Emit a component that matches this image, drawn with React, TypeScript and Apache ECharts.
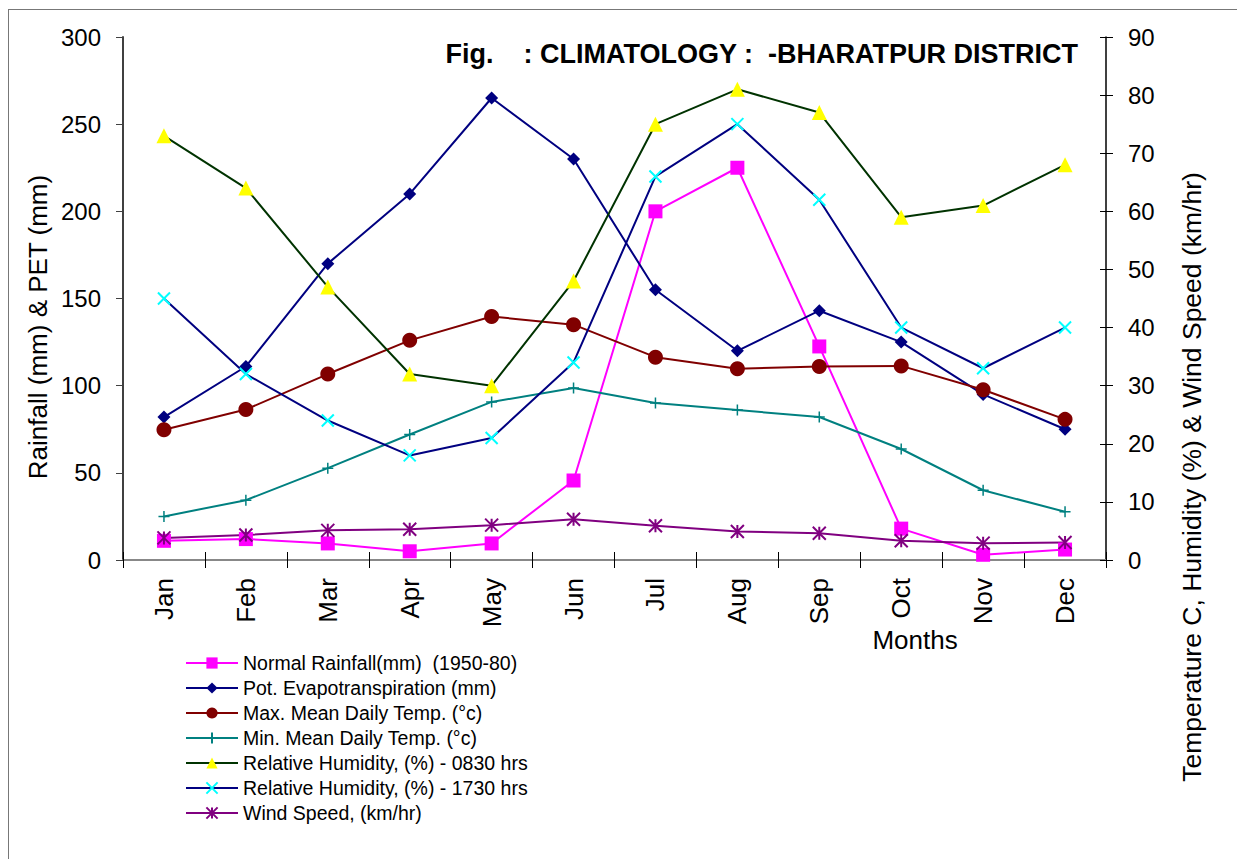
import React, { useEffect, useRef } from "react";
import * as echarts from "echarts";

const months = ["Jan", "Feb", "Mar", "Apr", "May", "Jun", "Jul", "Aug", "Sep", "Oct", "Nov", "Dec"];
const leftTicks = [0, 50, 100, 150, 200, 250, 300];
const rightTicks = [0, 10, 20, 30, 40, 50, 60, 70, 80, 90];

const rainfall = [11, 12, 9.5, 5, 9.5, 45.6, 200, 225, 122.5, 18, 3, 6];
const pet = [82, 111, 170, 210, 265, 230, 155, 120, 143, 125, 95, 75];
const maxTemp = [22.4, 25.9, 32.0, 37.8, 41.9, 40.5, 34.9, 32.9, 33.3, 33.4, 29.3, 24.2];
const minTemp = [7.5, 10.3, 15.8, 21.6, 27.2, 29.6, 27.0, 25.8, 24.6, 19.1, 12.0, 8.3];
const rh0830 = [73, 64, 47, 32, 30, 48, 75, 81, 77, 59, 61, 68];
const rh1730 = [45, 32, 24, 18, 21, 34, 66, 75, 62, 40, 33, 40];
const wind = [3.8, 4.3, 5.1, 5.3, 6.0, 7.0, 5.9, 4.9, 4.6, 3.3, 2.9, 3.0];

const FONT = "'Liberation Sans', Arial, sans-serif";

export default function App() {
  const ref = useRef<HTMLDivElement>(null);
  useEffect(() => {
    if (!ref.current) return;
    const chart = echarts.init(ref.current, undefined, { renderer: "svg" });
    const mk = (
      name: string,
      data: number[],
      yAxisIndex: number,
      lineColor: string,
      symbol: string,
      symbolSize: number,
      fill: string,
      stroke?: string,
      strokeWidth?: number
    ) => ({
      name,
      type: "line",
      data,
      yAxisIndex,
      symbol,
      symbolSize,
      showAllSymbol: true,
      lineStyle: { color: lineColor, width: 2 },
      itemStyle: {
        color: fill,
        borderColor: stroke ?? fill,
        borderWidth: strokeWidth ?? 0,
        opacity: 1,
      },
      emphasis: { disabled: true },
    });
    const xSym = "path://M0,0L10,10M10,0L0,10";
    const plusSym = "path://M5,0L5,10M0,5L10,5";
    const starSym = "path://M5,0L5,10M0,0L10,10M10,0L0,10";
    chart.setOption({
      animation: false,
      textStyle: { fontFamily: FONT },
      grid: { left: 123, right: 131, top: 37, bottom: 299, containLabel: false },
      legend: {
        orient: "vertical",
        left: 185,
        top: 653,
        padding: 0,
        itemWidth: 52,
        itemHeight: 14,
        itemGap: 5,
        textStyle: { fontSize: 19.5, color: "#000", fontFamily: FONT },
        selectedMode: false,
      },
      xAxis: [
        {
          type: "category",
          data: months,
          position: "bottom",
          boundaryGap: true,
          axisLine: { lineStyle: { color: "#000", width: 1.5 } },
          axisTick: { show: true, length: 8, inside: false, lineStyle: { color: "#000" } },
          axisLabel: { rotate: 90, fontSize: 26, color: "#000", margin: 18, fontFamily: FONT },
          splitLine: { show: false },
        },
        {
          type: "category",
          data: months,
          position: "bottom",
          gridIndex: 0,
          axisLine: { show: false },
          axisTick: { show: true, length: 8, inside: true, lineStyle: { color: "#000" } },
          axisLabel: { show: false },
          splitLine: { show: false },
        },
        {
          type: "category",
          data: months,
          position: "top",
          axisLine: { lineStyle: { color: "#888", width: 2 } },
          axisTick: { show: false },
          axisLabel: { show: false },
          splitLine: { show: false },
        },
      ],
      yAxis: [
        {
          type: "value",
          position: "left",
          min: leftTicks[0],
          max: leftTicks[leftTicks.length - 1],
          interval: leftTicks[1] - leftTicks[0],
          axisLine: { show: true, lineStyle: { color: "#404040", width: 2 } },
          axisTick: { show: true, length: 7, lineStyle: { color: "#404040" } },
          axisLabel: { fontSize: 24, color: "#000", margin: 22, fontFamily: FONT },
          splitLine: { show: false },
        },
        {
          type: "value",
          position: "right",
          min: rightTicks[0],
          max: rightTicks[rightTicks.length - 1],
          interval: rightTicks[1] - rightTicks[0],
          axisLine: { show: true, lineStyle: { color: "#000", width: 1.5 } },
          axisTick: { show: true, length: 7, lineStyle: { color: "#000" } },
          axisLabel: { fontSize: 24, color: "#000", margin: 22, fontFamily: FONT },
          splitLine: { show: false },
        },
        {
          type: "value",
          position: "right",
          min: rightTicks[0],
          max: rightTicks[rightTicks.length - 1],
          interval: rightTicks[1] - rightTicks[0],
          axisLine: { show: false },
          axisTick: { show: true, inside: true, length: 6, lineStyle: { color: "#000" } },
          axisLabel: { show: false },
          splitLine: { show: false },
        },
      ],
      series: [
        mk("Normal Rainfall(mm)  (1950-80)", rainfall, 0, "#FF00FF", "rect", 14, "#FF00FF"),
        mk("Pot. Evapotranspiration (mm)", pet, 0, "#000080", "diamond", 13, "#000080"),
        mk("Max. Mean Daily Temp. (°c)", maxTemp, 1, "#800000", "circle", 15, "#800000"),
        mk("Min. Mean Daily Temp. (°c)", minTemp, 1, "#008080", plusSym, 11, "#008080", "#008080", 1.5),
        mk("Relative Humidity, (%) - 0830 hrs", rh0830, 1, "#003300", "triangle", 15, "#FFFF00"),
        mk("Relative Humidity, (%) - 1730 hrs", rh1730, 1, "#000080", xSym, 12, "#00FFFF", "#00FFFF", 2),
        mk("Wind Speed, (km/hr)", wind, 1, "#800080", starSym, 13, "#800080", "#800080", 2),
      ],
      graphic: [
        { type: "line", shape: { x1: 8, y1: 9.5, x2: 1237, y2: 9.5 }, style: { stroke: "#777", lineWidth: 1 } },
        { type: "line", shape: { x1: 8.5, y1: 9, x2: 8.5, y2: 859 }, style: { stroke: "#777", lineWidth: 1 } },
        {
          type: "text",
          x: 1078,
          y: 54,
          style: {
            text: "Fig.    : CLIMATOLOGY :  -BHARATPUR DISTRICT",
            fontSize: 27,
            fontWeight: "bold",
            fontFamily: FONT,
            fill: "#000",
            align: "right",
            verticalAlign: "middle",
          },
        },
        {
          type: "text",
          x: 37.5,
          y: 327,
          rotation: Math.PI / 2,
          style: {
            text: "Rainfall (mm) & PET (mm)",
            fontSize: 26,
            fontFamily: FONT,
            fill: "#000",
            align: "center",
            verticalAlign: "middle",
          },
        },
        {
          type: "text",
          x: 1192,
          y: 477,
          rotation: Math.PI / 2,
          style: {
            text: "Temperature C, Humidity (%) & Wind Speed (km/hr)",
            fontSize: 26.5,
            fontFamily: FONT,
            fill: "#000",
            align: "center",
            verticalAlign: "middle",
          },
        },
        {
          type: "text",
          x: 915,
          y: 640,
          style: {
            text: "Months",
            fontSize: 26,
            fontFamily: FONT,
            fill: "#000",
            align: "center",
            verticalAlign: "middle",
          },
        },
      ],
    });
    return () => chart.dispose();
  }, []);
  return (
    <div
      ref={ref}
      style={{ position: "fixed", left: 0, top: 0, width: 1237, height: 859, background: "#fff" }}
    />
  );
}
